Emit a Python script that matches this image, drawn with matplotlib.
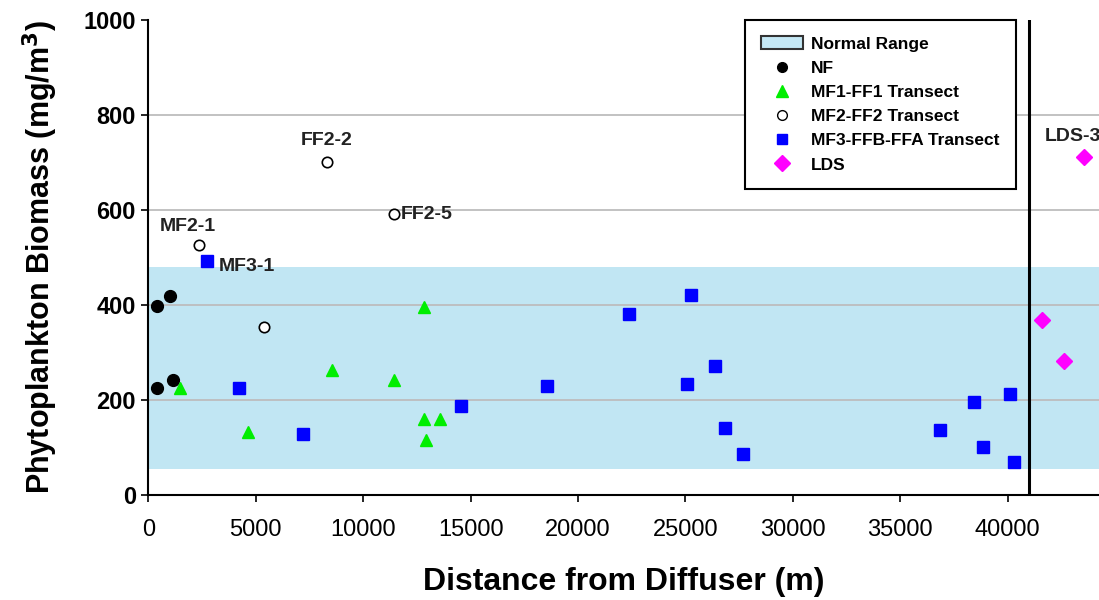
import numpy as np
import matplotlib.pyplot as plt
from matplotlib.patches import Patch
from matplotlib.lines import Line2D

plt.rcParams['font.family'] = ['Liberation Sans', 'DejaVu Sans']

# sample stations: distance from diffuser (m) and phytoplankton biomass (mg/m3)
nf_x = [420, 1000, 380, 1130]
nf_y = [398, 418, 226, 242]

mf1_x = [1470, 4650, 8560, 11430, 12830, 12830, 13570, 12920]
mf1_y = [225, 133, 263, 242, 396, 161, 161, 116]

mf2_x = [8300, 11440, 2370, 5390]
mf2_y = [700, 591, 526, 354]

mf3_x = [2740, 4230, 7210, 14550, 18550, 22380, 25270, 25070, 26390,
         26850, 27700, 36830, 38420, 38840, 40100, 40280]
mf3_y = [493, 226, 128, 188, 229, 380, 422, 234, 272,
         142, 86, 137, 195, 102, 213, 70]

lds_x = [41600, 42610, 43550]
lds_y = [368, 283, 711]

normal_lo, normal_hi = 55, 480
boundary_x = 41000
grid_y = [200, 400, 600, 800]

fig = plt.figure(figsize=(10.99, 6.0), dpi=100)
ax = fig.add_axes([0.135, 0.175, 0.865, 0.7917])

ax.axhspan(normal_lo, normal_hi, color='#c1e6f3', zorder=0.1, lw=0)
for gy in grid_y:
    ax.axhline(gy, color='#bdbdbd', lw=1.3, zorder=0.5)

ax.plot(nf_x, nf_y, 'o', color='black', ms=8.5, ls='none', zorder=3)
ax.plot(mf1_x, mf1_y, '^', color='#00ee00', ms=9, ls='none', zorder=3)
ax.plot(mf2_x, mf2_y, 'o', mfc='white', mec='black', mew=1.2, ms=7.5, ls='none', zorder=3)
ax.plot(mf3_x, mf3_y, 's', color='#0000ff', ms=8, ls='none', zorder=3)
ax.plot(lds_x, lds_y, 'D', color='#ff00ff', ms=8, ls='none', zorder=3)

ax.axvline(boundary_x, color='black', lw=2.2, zorder=4)

# station labels
lab = dict(fontsize=14, fontweight='bold', color='#222222', zorder=5)
ax.annotate("FF2-2", (mf2_x[0], mf2_y[0]), xytext=(0, 10), textcoords='offset points',
            ha='center', va='bottom', **lab)
ax.annotate("FF2-5", (mf2_x[1], mf2_y[1]), xytext=(5, 0), textcoords='offset points',
            ha='left', va='center', **lab)
ax.annotate("MF2-1", (mf2_x[2], mf2_y[2]), xytext=(-8, 7), textcoords='offset points',
            ha='center', va='bottom', **lab)
ax.annotate("MF3-1", (mf3_x[0], mf3_y[0]), xytext=(8, -4), textcoords='offset points',
            ha='left', va='center', **lab)
ax.annotate("LDS-3", (lds_x[2], lds_y[2]), xytext=(-8, 9), textcoords='offset points',
            ha='center', va='bottom', annotation_clip=False, clip_on=True, **lab)

ax.set_xlim(0, 44250)
ax.set_ylim(0, 1000)
ax.set_xticks(np.arange(0, 40001, 5000))
ax.set_yticks(np.arange(0, 1001, 200))
for s in ['top', 'right']:
    ax.spines[s].set_visible(False)
for s in ['left', 'bottom']:
    ax.spines[s].set_linewidth(1.5)
ax.tick_params(direction='out', length=5, width=1.2)
ax.tick_params(axis='y', labelsize=17, pad=4)
ax.tick_params(axis='x', labelsize=17, pad=12)
for t in ax.get_yticklabels():
    t.set_fontweight('bold')

ax.set_xlabel("Distance from Diffuser (m)", fontsize=23, fontweight='bold', labelpad=19)
ax.set_ylabel("Phytoplankton Biomass (mg/m$^\\mathbf{3}$)", fontsize=22, fontweight='bold', labelpad=17)

handles = [
    Patch(facecolor='#c5e8f5', edgecolor='#333333', lw=1.5, label="Normal Range"),
    Line2D([], [], marker='o', color='black', ls='none', ms=7, label="NF"),
    Line2D([], [], marker='^', color='#00ee00', ls='none', ms=8, label="MF1-FF1 Transect"),
    Line2D([], [], marker='o', mfc='white', mec='black', ls='none', ms=7, label="MF2-FF2 Transect"),
    Line2D([], [], marker='s', color='#0000ff', ls='none', ms=7, label="MF3-FFB-FFA Transect"),
    Line2D([], [], marker='D', color='#ff00ff', ls='none', ms=8, label="LDS"),
]
leg = ax.legend(handles=handles, loc='upper left', bbox_to_anchor=(0.6276, 1.0),
                borderaxespad=0, fancybox=False, edgecolor='black', framealpha=1,
                prop={'weight': 'bold', 'size': 12.5}, labelspacing=0.52,
                handlelength=2.4, handletextpad=0.45, borderpad=0.95)
leg.get_frame().set_linewidth(1.5)
leg.set_zorder(6)

fig.savefig("out.png", dpi=100)
